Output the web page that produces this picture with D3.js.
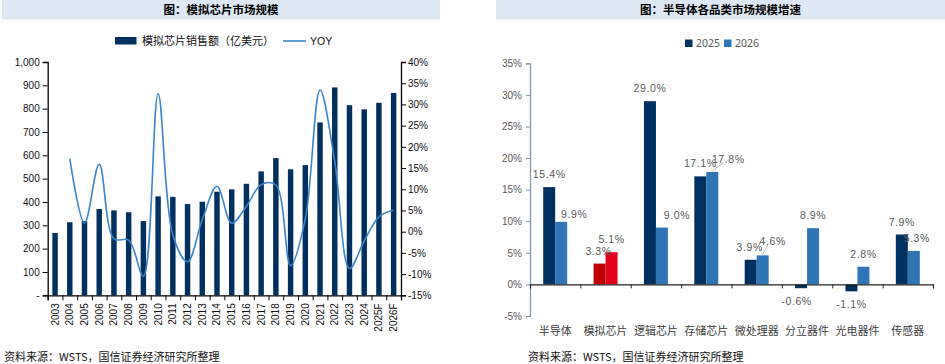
<!DOCTYPE html>
<html>
<head>
<meta charset="utf-8">
<script src="https://cdn.jsdelivr.net/npm/d3@7"></script>
<style>
  body { margin: 0; background: #fff; }
  svg { display: block; font-family: "Liberation Sans", "Noto Sans CJK SC", sans-serif; }
</style>
</head>
<body>
<svg id="chart" width="945" height="364"></svg>
<script>
// ---- left chart data: 模拟芯片市场规模
const years = ['2003','2004','2005','2006','2007','2008','2009','2010','2011','2012','2013','2014',
  '2015','2016','2017','2018','2019','2020','2021','2022','2023','2024','2025F','2026F'];
const sales = [267, 313, 318, 370, 364, 356, 318, 424, 422, 391, 401, 444,
  454, 478, 531, 588, 540, 558, 741, 891, 815, 797, 825, 867];
const yoy = [null, 17.2, 2.0, 15.9, -1.7, -2.0, -10.5, 32.5, -0.8, -7.1, 2.8, 10.7,
  2.0, 6.0, 11.1, 11.0, -8.0, 3.0, 33.4, 16.5, -8.7, -2.2, 3.5, 5.1];
const leftTicks = [0, 100, 200, 300, 400, 500, 600, 700, 800, 900, 1000];
const rightTicks = [-15, -10, -5, 0, 5, 10, 15, 20, 25, 30, 35, 40];

// ---- right chart data: 半导体各品类市场规模增速
const cats = ['半导体', '模拟芯片', '逻辑芯片', '存储芯片', '微处理器', '分立器件', '光电器件', '传感器'];
const series = ['2025', '2026'];
const g2025 = [15.4, 3.3, 29.0, 17.1, 3.9, -0.6, -1.1, 7.9];
const g2026 = [9.9, 5.1, 9.0, 17.8, 4.6, 8.9, 2.8, 5.3];
const growthTicks = [-5, 0, 5, 10, 15, 20, 25, 30, 35];

const NAVY = '#00305f', BLUE = '#2e75b6', LINE = '#3a85cc';
const svg = d3.select('#chart');

// title strips
function title(x0, x1, txt) {
  svg.append('rect').attr('x', x0).attr('y', 0).attr('width', x1 - x0).attr('height', 19.5)
    .attr('fill', '#dde8f4');
  svg.append('text').attr('x', (x0 + x1) / 2).attr('y', 14).attr('text-anchor', 'middle')
    .style('font-family', '"Noto Sans CJK SC", sans-serif').style('font-weight', 'bold')
    .style('font-size', '11.5px').text(txt);
}
title(2, 440, '图：模拟芯片市场规模');
title(496, 945, '图：半导体各品类市场规模增速');

function source(x) {
  svg.append('text').attr('x', x).attr('y', 361)
    .style('font-family', '"Noto Sans CJK SC", sans-serif').style('font-size', '11px')
    .attr('fill', '#111').text('资料来源：WSTS，国信证券经济研究所整理');
}
source(4);
source(528);

// ================= left chart =================
(function() {
  const L = 47.7, R = 401, T = 62, B = 295.3;
  const x = d3.scaleBand().domain(years).range([L, R]).paddingInner(0.63).paddingOuter(0.315);
  const y = d3.scaleLinear().domain([0, 1000]).range([B, T]);
  const y2 = d3.scaleLinear().domain([-15, 40]).range([B, T]);
  const g = svg.append('g');

  g.selectAll('.bar').data(sales).enter().append('rect')
    .attr('x', (d, i) => x(years[i]))
    .attr('y', d => y(d))
    .attr('width', x.bandwidth())
    .attr('height', d => B - y(d))
    .attr('fill', NAVY);

  const pts = yoy.map((v, i) => [x(years[i]) + x.bandwidth() / 2, v]).filter(p => p[1] !== null);
  g.append('path').datum(pts)
    .attr('d', d3.line().x(p => p[0]).y(p => y2(p[1])).curve(d3.curveCatmullRom.alpha(0.5)))
    .attr('fill', 'none').attr('stroke', LINE).attr('stroke-width', 1.6);

  const ax = g.append('g').attr('transform', `translate(${L},0)`)
    .call(d3.axisLeft(y).tickValues(leftTicks).tickSize(5).tickPadding(3)
      .tickFormat(d => d === 0 ? '-' : d3.format(',')(d)));
  const ax2 = g.append('g').attr('transform', `translate(${R},0)`)
    .call(d3.axisRight(y2).tickValues(rightTicks).tickSize(5).tickPadding(2)
      .tickFormat(d => d + '%'));
  const bx = d3.scaleLinear().domain([0, years.length]).range([L, R]);
  const axb = g.append('g').attr('transform', `translate(0,${B})`)
    .call(d3.axisBottom(bx).tickValues(d3.range(0, years.length + 1)).tickSize(5).tickFormat(''));
  [ax, ax2, axb].forEach(a => {
    a.select('.domain').attr('stroke', '#000').attr('stroke-width', 1.3);
    a.selectAll('line').attr('stroke', '#000');
    a.selectAll('text').style('font-size', '10px').attr('fill', '#111');
  });

  g.selectAll('.yr').data(years).enter().append('text')
    .attr('transform', d => `translate(${x(d) + x.bandwidth() / 2 + 3.5},${B + 8}) rotate(-90)`)
    .attr('text-anchor', 'end')
    .style('font-size', '10px').attr('fill', '#111').text(d => d);

  // legend
  const lg = g.append('g');
  lg.append('rect').attr('x', 115).attr('y', 37).attr('width', 21.5).attr('height', 7.5).attr('fill', NAVY);
  lg.append('text').attr('x', 142).attr('y', 45)
    .style('font-family', '"Noto Sans CJK SC", sans-serif').style('font-size', '11px')
    .attr('fill', '#111').text('模拟芯片销售额（亿美元）');
  lg.append('line').attr('x1', 283).attr('x2', 306).attr('y1', 41).attr('y2', 41)
    .attr('stroke', LINE).attr('stroke-width', 1.6);
  lg.append('text').attr('x', 310).attr('y', 45).style('font-size', '10.5px')
    .attr('fill', '#111').text('YOY');
})();

// ================= right chart =================
(function() {
  const L = 530, R = 933, T = 63.3, B = 316;
  const x0 = d3.scaleBand().domain(cats).range([L, R]).paddingInner(0.524).paddingOuter(0.262);
  const x1 = d3.scaleBand().domain(series).range([0, x0.bandwidth()]);
  const y = d3.scaleLinear().domain([-5, 35]).range([B, T]);
  const g = svg.append('g');
  const rows = cats.map((c, i) => ({ cat: c, i: i, vals: [g2025[i], g2026[i]] }));

  const fill = (c, s) => c === '模拟芯片' ? (s === '2025' ? '#c00000' : '#e3001b') : (s === '2025' ? NAVY : BLUE);

  const grp = g.selectAll('.cat').data(rows).enter().append('g')
    .attr('transform', d => `translate(${x0(d.cat)},0)`);
  grp.selectAll('rect').data(d => d.vals.map((v, k) => ({ cat: d.cat, s: series[k], v: v })))
    .enter().append('rect')
    .attr('x', d => x1(d.s))
    .attr('y', d => y(Math.max(0, d.v)))
    .attr('width', x1.bandwidth())
    .attr('height', d => Math.abs(y(d.v) - y(0)))
    .attr('fill', d => fill(d.cat, d.s));

  // axes
  const ay = g.append('g').attr('transform', `translate(${L},0)`)
    .call(d3.axisLeft(y).tickValues(growthTicks).tickSize(4).tickPadding(4).tickFormat(d => d + '%'));
  ay.select('.domain').attr('stroke', '#8193ab').attr('stroke-width', 1.2);
  ay.selectAll('line').attr('stroke', '#8193ab');
  ay.selectAll('text').style('font-size', '10px').attr('fill', '#595959');

  const bx = d3.scaleLinear().domain([0, cats.length]).range([L, R]);
  const ab = g.append('g').attr('transform', `translate(0,${y(0)})`)
    .call(d3.axisBottom(bx).tickValues(d3.range(1, cats.length + 1)).tickSize(4).tickFormat(''));
  ab.select('.domain').attr('stroke', '#222').attr('stroke-width', 1.2);
  ab.selectAll('line').attr('stroke', '#222');

  g.selectAll('.cl').data(cats).enter().append('text')
    .attr('x', d => x0(d) + x0.bandwidth() / 2).attr('y', 335)
    .attr('text-anchor', 'middle')
    .style('font-family', '"Noto Sans CJK SC", sans-serif').style('font-size', '11px')
    .attr('fill', '#404040').text(d => d);

  // data labels, with small nudges where Excel moved them
  const nudge = {
    '2026': [[13, 5], [0, 0], [15, 0], [16, 0], [10, -1], [0, 0], [0, 0], [3, 0]],
    '2025': [[0, 0], [-1, 0], [0, 0], [0, 0], [-1, 0], [-4.5, 0], [0, 0], [0, 0]]
  };
  const leaders = ['存储芯片', '微处理器'];
  const labs = [];
  rows.forEach(r => r.vals.forEach((v, k) => {
    const s = series[k];
    const cx = x0(r.cat) + x1(s) + x1.bandwidth() / 2;
    const n = nudge[s][r.i];
    labs.push({ v: v, bx: cx, by: y(v), x: cx + n[0], y: (v >= 0 ? y(v) - 13 : y(v) + 13) + n[1],
      lead: s === '2026' && leaders.includes(r.cat) });
  }));
  g.selectAll('.lead').data(labs.filter(d => d.lead)).enter().append('line')
    .attr('x1', d => d.bx).attr('y1', d => d.by - 1)
    .attr('x2', d => d.x - 5).attr('y2', d => d.y + 4)
    .attr('stroke', '#a6a6a6').attr('stroke-width', 0.8);
  g.selectAll('.dl').data(labs).enter().append('text')
    .attr('x', d => d.x).attr('y', d => d.y + 4)
    .attr('text-anchor', 'middle')
    .style('font-size', '10.5px').style('letter-spacing', '0.6px')
    .attr('fill', '#595959').text(d => d.v.toFixed(1) + '%');

  // legend
  const lg = g.append('g');
  series.forEach((s, k) => {
    const lx = 685 + k * 39;
    lg.append('rect').attr('x', lx).attr('y', 39.5).attr('width', 7.5).attr('height', 7.5)
      .attr('fill', k === 0 ? NAVY : BLUE);
    lg.append('text').attr('x', lx + 11).attr('y', 47).style('font-family', '"Noto Sans", sans-serif')
      .style('font-size', '10.5px').attr('fill', '#595959').text(s);
  });
})();
</script>
</body>
</html>
